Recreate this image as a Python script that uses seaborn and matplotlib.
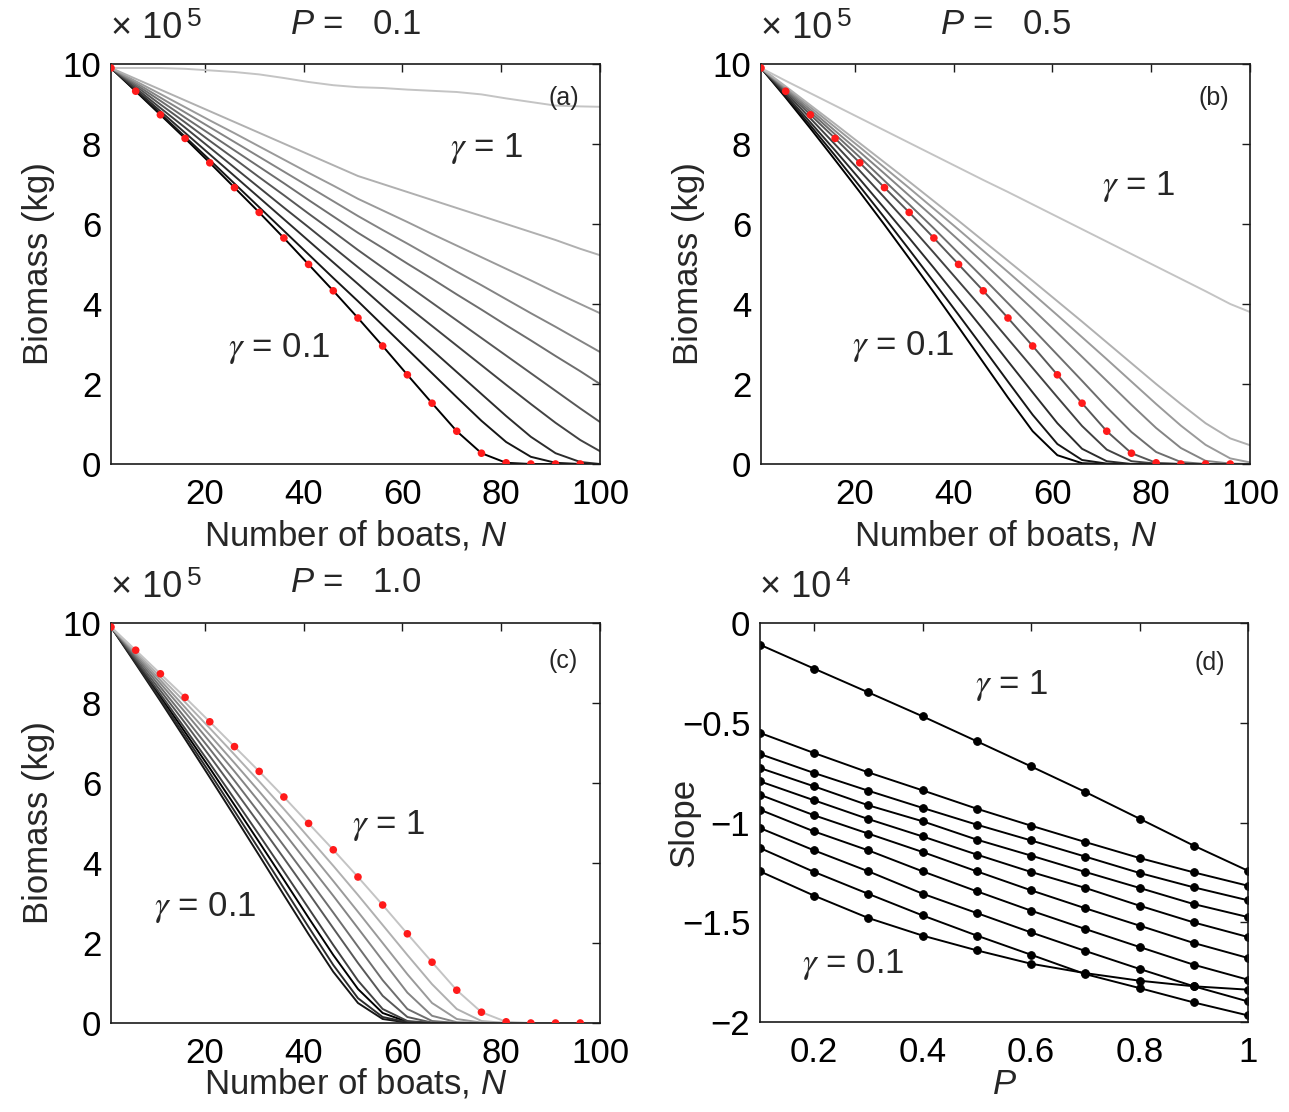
import matplotlib
matplotlib.use("Agg")
import matplotlib.pyplot as plt
import seaborn as sns
import pandas as pd

# ---------------- data (biomass in units of 10^5 kg) ----------------
gammas = [0.1, 0.2, 0.3, 0.4, 0.5, 0.6, 0.7, 0.8, 0.9, 1.0]
gamma_colors = ["#000000", "#161616", "#2c2c2c", "#424242", "#585858",
                "#6e6e6e", "#848484", "#9a9a9a", "#b0b0b0", "#c4c4c4"]

n_grid = [1, 6, 11, 16, 21, 26, 31, 36, 41, 46, 51, 56, 61, 66, 71, 76, 81, 86, 91, 96, 100]

red_n = [1, 6, 11, 16, 21, 26, 31, 36, 41, 46, 51, 56, 61, 66, 71, 76, 81, 86, 91, 96]
red_biomass = [9.9, 9.32, 8.73, 8.14, 7.53, 6.91, 6.29, 5.65, 4.99, 4.33,
               3.65, 2.95, 2.23, 1.52, 0.82, 0.27, 0.03, 0.0, 0.0, 0.0]

# Panel (a) P = 0.1
a_g01 = [9.9, 9.32, 8.73, 8.14, 7.53, 6.91, 6.29, 5.65, 4.99, 4.33, 3.65, 2.95, 2.23, 1.52, 0.82, 0.27, 0.03, 0, 0, 0, 0]
a_g02 = [9.9, 9.33, 8.76, 8.18, 7.6, 7.01, 6.42, 5.83, 5.24, 4.65, 4.07, 3.47, 2.87, 2.27, 1.67, 1.08, 0.55, 0.18, 0.03, 0, 0]
a_g03 = [9.9, 9.36, 8.82, 8.28, 7.74, 7.2, 6.66, 6.12, 5.58, 5.04, 4.5, 3.95, 3.4, 2.85, 2.3, 1.75, 1.2, 0.68, 0.27, 0.05, 0]
a_g04 = [9.9, 9.4, 8.9, 8.41, 7.91, 7.41, 6.91, 6.41, 5.92, 5.42, 4.92, 4.43, 3.94, 3.45, 2.96, 2.47, 1.98, 1.5, 1.03, 0.6, 0.32]
a_g05 = [9.9, 9.45, 8.99, 8.54, 8.08, 7.63, 7.17, 6.72, 6.26, 5.81, 5.35, 4.91, 4.47, 4.03, 3.59, 3.15, 2.71, 2.27, 1.83, 1.39, 1.05]
a_g06 = [9.9, 9.49, 9.08, 8.66, 8.25, 7.84, 7.43, 7.02, 6.6, 6.19, 5.78, 5.4, 5.01, 4.63, 4.24, 3.86, 3.47, 3.09, 2.7, 2.32, 2.0]
a_g07 = [9.9, 9.53, 9.16, 8.79, 8.42, 8.05, 7.68, 7.31, 6.94, 6.57, 6.2, 5.85, 5.51, 5.16, 4.81, 4.47, 4.12, 3.77, 3.43, 3.08, 2.8]
a_g08 = [9.9, 9.57, 9.25, 8.92, 8.59, 8.27, 7.94, 7.61, 7.28, 6.96, 6.63, 6.34, 6.05, 5.75, 5.46, 5.17, 4.88, 4.59, 4.29, 4.0, 3.77]
a_g09 = [9.9, 9.63, 9.36, 9.09, 8.82, 8.55, 8.28, 8.01, 7.74, 7.47, 7.2, 7.0, 6.8, 6.6, 6.4, 6.2, 6.0, 5.8, 5.6, 5.38, 5.22]
a_g10 = [9.9, 9.9, 9.9, 9.88, 9.84, 9.8, 9.74, 9.65, 9.55, 9.47, 9.42, 9.4, 9.36, 9.33, 9.3, 9.24, 9.14, 9.05, 8.96, 8.94, 8.93]

# Panel (b) P = 0.5
b_g01 = [9.9, 9.16, 8.39, 7.6, 6.8, 5.98, 5.14, 4.29, 3.42, 2.54, 1.66, 0.82, 0.22, 0.02, 0, 0, 0, 0, 0, 0, 0]
b_g02 = [9.9, 9.19, 8.46, 7.71, 6.94, 6.16, 5.36, 4.55, 3.73, 2.9, 2.06, 1.23, 0.5, 0.1, 0.01, 0, 0, 0, 0, 0, 0]
b_g03 = [9.9, 9.23, 8.54, 7.84, 7.12, 6.39, 5.65, 4.9, 4.13, 3.36, 2.57, 1.79, 1.02, 0.38, 0.07, 0, 0, 0, 0, 0, 0]
b_g04 = [9.9, 9.28, 8.64, 7.99, 7.33, 6.66, 5.98, 5.28, 4.57, 3.86, 3.13, 2.4, 1.67, 0.95, 0.36, 0.07, 0.01, 0, 0, 0, 0]
b_g05 = [9.9, 9.32, 8.73, 8.14, 7.53, 6.91, 6.29, 5.65, 4.99, 4.33, 3.65, 2.95, 2.23, 1.52, 0.82, 0.27, 0.03, 0, 0, 0, 0]
b_g06 = [9.9, 9.35, 8.8, 8.24, 7.67, 7.08, 6.49, 5.89, 5.27, 4.65, 4.02, 3.38, 2.73, 2.08, 1.42, 0.8, 0.3, 0.05, 0, 0, 0]
b_g07 = [9.9, 9.38, 8.86, 8.33, 7.8, 7.26, 6.71, 6.16, 5.6, 5.03, 4.45, 3.87, 3.28, 2.68, 2.08, 1.48, 0.9, 0.4, 0.08, 0.01, 0]
b_g08 = [9.9, 9.41, 8.92, 8.42, 7.92, 7.41, 6.9, 6.38, 5.86, 5.33, 4.8, 4.26, 3.72, 3.17, 2.62, 2.06, 1.5, 0.96, 0.48, 0.14, 0.04]
b_g09 = [9.9, 9.44, 8.97, 8.5, 8.02, 7.54, 7.06, 6.57, 6.08, 5.58, 5.08, 4.58, 4.07, 3.56, 3.04, 2.52, 2.0, 1.5, 1.02, 0.64, 0.47]
b_g10 = [9.9, 9.58, 9.27, 8.96, 8.65, 8.34, 8.03, 7.72, 7.41, 7.1, 6.8, 6.49, 6.18, 5.87, 5.56, 5.25, 4.94, 4.63, 4.32, 4.0, 3.8]

# Panel (c) P = 1.0
c_g01 = [9.9, 9.04, 8.16, 7.27, 6.37, 5.45, 4.52, 3.58, 2.63, 1.7, 0.85, 0.25, 0.03, 0, 0, 0, 0, 0, 0, 0, 0]
c_g02 = [9.9, 8.98, 8.05, 7.1, 6.14, 5.17, 4.19, 3.2, 2.22, 1.28, 0.5, 0.1, 0.01, 0, 0, 0, 0, 0, 0, 0, 0]
c_g03 = [9.9, 9.01, 8.1, 7.18, 6.25, 5.3, 4.34, 3.37, 2.4, 1.45, 0.62, 0.15, 0.02, 0, 0, 0, 0, 0, 0, 0, 0]
c_g04 = [9.9, 9.07, 8.22, 7.36, 6.49, 5.6, 4.7, 3.79, 2.87, 1.95, 1.06, 0.35, 0.05, 0, 0, 0, 0, 0, 0, 0, 0]
c_g05 = [9.9, 9.11, 8.31, 7.5, 6.67, 5.83, 4.98, 4.12, 3.25, 2.37, 1.5, 0.68, 0.15, 0.01, 0, 0, 0, 0, 0, 0, 0]
c_g06 = [9.9, 9.16, 8.4, 7.63, 6.85, 6.06, 5.25, 4.43, 3.6, 2.76, 1.91, 1.07, 0.35, 0.05, 0, 0, 0, 0, 0, 0, 0]
c_g07 = [9.9, 9.2, 8.49, 7.77, 7.03, 6.29, 5.53, 4.76, 3.97, 3.18, 2.37, 1.56, 0.76, 0.18, 0.02, 0, 0, 0, 0, 0, 0]
c_g08 = [9.9, 9.24, 8.57, 7.89, 7.2, 6.5, 5.79, 5.06, 4.31, 3.55, 2.78, 2.0, 1.22, 0.5, 0.1, 0.01, 0, 0, 0, 0, 0]
c_g09 = [9.9, 9.28, 8.65, 8.02, 7.37, 6.71, 6.04, 5.35, 4.64, 3.93, 3.2, 2.45, 1.7, 0.97, 0.35, 0.05, 0, 0, 0, 0, 0]
c_g10 = [9.9, 9.32, 8.73, 8.14, 7.53, 6.91, 6.29, 5.65, 4.99, 4.33, 3.65, 2.95, 2.23, 1.52, 0.82, 0.27, 0.03, 0, 0, 0, 0]

# Panel (d): slope (units of 10^4) vs P
p_values = [0.1, 0.2, 0.3, 0.4, 0.5, 0.6, 0.7, 0.8, 0.9, 1.0]
d_g01 = [-1.245, -1.367, -1.479, -1.567, -1.641, -1.708, -1.755, -1.793, -1.821, -1.838]
d_g02 = [-1.128, -1.248, -1.358, -1.466, -1.567, -1.663, -1.760, -1.830, -1.902, -1.967]
d_g03 = [-1.028, -1.140, -1.245, -1.357, -1.454, -1.551, -1.644, -1.734, -1.821, -1.897]
d_g04 = [-0.936, -1.045, -1.140, -1.245, -1.345, -1.442, -1.534, -1.624, -1.713, -1.788]
d_g05 = [-0.861, -0.964, -1.056, -1.148, -1.245, -1.340, -1.430, -1.517, -1.604, -1.679]
d_g06 = [-0.794, -0.889, -0.983, -1.070, -1.161, -1.248, -1.328, -1.417, -1.501, -1.574]
d_g07 = [-0.727, -0.819, -0.914, -0.994, -1.086, -1.166, -1.248, -1.328, -1.409, -1.474]
d_g08 = [-0.657, -0.752, -0.841, -0.927, -1.011, -1.090, -1.171, -1.253, -1.325, -1.390]
d_g09 = [-0.551, -0.652, -0.749, -0.839, -0.931, -1.016, -1.098, -1.178, -1.250, -1.317]
d_g10 = [-0.109, -0.229, -0.348, -0.468, -0.593, -0.719, -0.847, -0.981, -1.116, -1.242]

panel_a = [a_g01, a_g02, a_g03, a_g04, a_g05, a_g06, a_g07, a_g08, a_g09, a_g10]
panel_b = [b_g01, b_g02, b_g03, b_g04, b_g05, b_g06, b_g07, b_g08, b_g09, b_g10]
panel_c = [c_g01, c_g02, c_g03, c_g04, c_g05, c_g06, c_g07, c_g08, c_g09, c_g10]
panel_d = [d_g01, d_g02, d_g03, d_g04, d_g05, d_g06, d_g07, d_g08, d_g09, d_g10]

x_ticks_n = [20, 40, 60, 80, 100]
y_ticks_b = [0, 2, 4, 6, 8, 10]
x_ticks_p = [0.2, 0.4, 0.6, 0.8, 1.0]
x_ticklabels_p = ["0.2", "0.4", "0.6", "0.8", "1"]
y_ticks_s = [0, -0.5, -1, -1.5, -2]
y_ticklabels_s = ["0", "\u22120.5", "\u22121", "\u22121.5", "\u22122"]

# ---------------- style ----------------
sns.set_style("white")
plt.rcParams["font.family"] = ["Liberation Sans", "DejaVu Sans"]
plt.rcParams["mathtext.fontset"] = "custom"
plt.rcParams["mathtext.rm"] = "Liberation Sans"
plt.rcParams["mathtext.it"] = "Liberation Sans:italic"
plt.rcParams["mathtext.bf"] = "Liberation Sans:bold"
plt.rcParams["axes.unicode_minus"] = True

FS = 25
fig = plt.figure(figsize=(12.89, 11.12), dpi=100)

W, H = 489 / 1289, 400 / 1112
rects = {
    "a": [111 / 1289, 1 - 464 / 1112, W, H],
    "b": [761 / 1289, 1 - 464 / 1112, W, H],
    "c": [111 / 1289, 1 - 1023 / 1112, W, H],
    "d": [760 / 1289, 1 - 1022 / 1112, 488 / 1289, 399 / 1112],
}


def style_axes(ax):
    for s in ax.spines.values():
        s.set_visible(True)
        s.set_color("#1a1a1a")
        s.set_linewidth(1.2)
    ax.tick_params(direction="in", top=True, right=True, length=6, width=1.0,
                   labelsize=FS, colors="#1a1a1a", labelcolor="black")
    ax.tick_params(axis="x", pad=10)
    ax.tick_params(axis="y", pad=7)


def gamma_label(ax, x, y, val, **kw):
    ax.text(x, y, r"$\gamma$ = " + val, ha="center", va="center", fontsize=FS,
            math_fontfamily="stix", **kw)


def exponent_label(ax, expo):
    ax.text(0.0, 1.045, "\u00d7 10", transform=ax.transAxes, ha="left",
            va="bottom", fontsize=26)
    ax.text(0.155, 1.083, expo, transform=ax.transAxes,
            ha="left", va="bottom", fontsize=19)


def biomass_panel(key, lines, ptxt, g1_pos, g01_pos, xlab_y):
    ax = fig.add_axes(rects[key])
    rows = []
    for g, vals in zip(gammas, lines):
        for n, v in zip(n_grid, vals):
            rows.append({"N": n, "B": v, "gamma": g})
    df = pd.DataFrame(rows)
    pal = dict(zip(gammas, gamma_colors))
    sns.lineplot(data=df, x="N", y="B", hue="gamma", palette=pal, legend=False,
                 sort=False, estimator=None, linewidth=1.4, ax=ax)
    sns.scatterplot(x=red_n, y=red_biomass, color="#ff1a1a", s=30, edgecolor="none",
                    zorder=5, ax=ax)
    ax.set_xlim(1, 100)
    ax.set_ylim(0, 10)
    ax.set_xticks(x_ticks_n)
    ax.set_yticks(y_ticks_b)
    style_axes(ax)
    ax.set_xlabel("Number of boats, $N$", fontsize=FS)
    ax.set_ylabel("Biomass (kg)", fontsize=FS)
    ax.xaxis.set_label_coords(0.5, xlab_y)
    ax.yaxis.set_label_coords(-0.115, 0.5)
    exponent_label(ax, "5")
    ax.text(0.5, 1.1, "$P$ =   " + ptxt, transform=ax.transAxes, ha="center",
            va="center", fontsize=FS)
    ax.text(0.925, 0.915 if key != "c" else 0.905, "(" + key + ")", transform=ax.transAxes,
            ha="center", va="center", fontsize=18)
    gamma_label(ax, g1_pos[0], g1_pos[1], "1")
    gamma_label(ax, g01_pos[0], g01_pos[1], "0.1")
    return ax


biomass_panel("a", panel_a, "0.1", (77, 7.9), (35, 2.9), -0.135)
biomass_panel("b", panel_b, "0.5", (77.4, 6.94), (29.8, 2.94), -0.135)
biomass_panel("c", panel_c, "1.0", (57.3, 4.94), (20.0, 2.89), -0.11)

# Panel (d)
axd = fig.add_axes(rects["d"])
for g, vals in zip(gammas, panel_d):
    sns.lineplot(x=p_values, y=vals, color="black", linewidth=1.4, marker="o",
                 markersize=5.5, markeredgecolor="black", sort=False, estimator=None,
                 legend=False, ax=axd)
axd.set_xlim(0.1, 1.0)
axd.set_ylim(-2, 0)
axd.set_xticks(x_ticks_p)
axd.set_xticklabels(x_ticklabels_p)
axd.set_yticks(y_ticks_s)
axd.set_yticklabels(y_ticklabels_s)
style_axes(axd)
axd.set_xlabel("$P$", fontsize=FS)
axd.set_ylabel("Slope", fontsize=FS)
axd.xaxis.set_label_coords(0.5, -0.115)
axd.yaxis.set_label_coords(-0.123, 0.5)
exponent_label(axd, "4")
axd.text(0.922, 0.90, "(d)", transform=axd.transAxes, ha="center", va="center", fontsize=18)
gamma_label(axd, 0.565, -0.314, "1")
gamma_label(axd, 0.272, -1.713, "0.1")

fig.savefig("out.png", dpi=100, facecolor="white")
